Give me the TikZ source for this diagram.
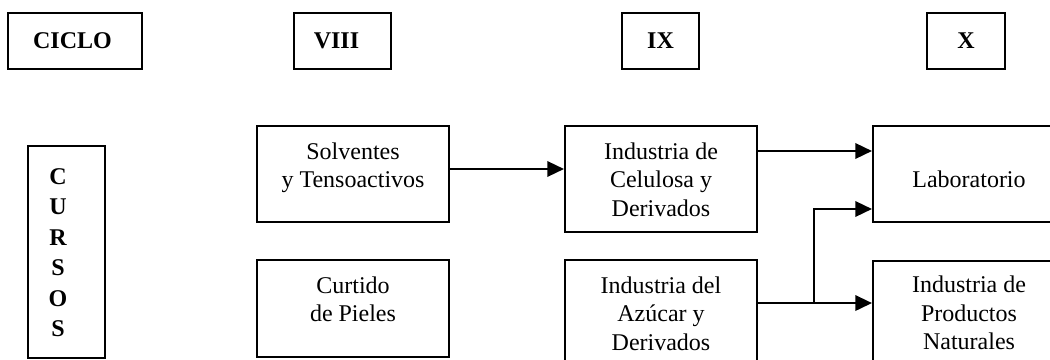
\documentclass[tikz,border=0pt]{standalone}
\usepackage{fontspec}
\setmainfont{Liberation Serif}
\usetikzlibrary{arrows.meta}
\newcommand{\bxt}[4]{\parbox[c][#2][t]{#1}{\centering\rule{0pt}{#3}#4}}
\begin{document}
\begin{tikzpicture}[x=0.75pt,y=-0.75pt,
  font=\fontsize{18pt}{21.4pt}\selectfont,
  box/.style={draw, line width=1.5pt, inner sep=0pt, anchor=north west},
  hbox/.style={draw, line width=1.5pt, inner sep=0pt, minimum height=42pt, font=\fontsize{18pt}{21.4pt}\selectfont\bfseries},
  arr/.style={line width=1.8pt, -{Triangle[length=12.5pt,width=11.5pt]}}]
\useasboundingbox (0,0) rectangle (1050,360);
\clip (0,0) rectangle (1050,360);
% headings
\node[hbox, minimum width=100.5pt] (ciclo) at (75,41) {\hspace*{-3.75pt}CICLO};
\node[hbox, minimum width=72.75pt] (viii) at (342.5,41) {\hspace*{-9pt}VIII};
\node[hbox, minimum width=57.75pt] (ix) at (660.5,41) {IX};
\node[hbox, minimum width=58.5pt] (x) at (966,41) {X};
% cursos
\node[box] (cursos) at (27,145) {\parbox[c][159pt][t]{57.75pt}{\bfseries\fontsize{18pt}{22.9pt}\selectfont\centering\rightskip=12.75pt plus 1fil\rule{0pt}{28.5pt}C\\U\\R\\S\\O\\S}};
% course boxes
\node[box] (solv) at (256,125) {\bxt{144pt}{72pt}{24.75pt}{Solventes\\y Tensoactivos}};
\node[box] (curt) at (256,259) {\bxt{144pt}{72.75pt}{24.75pt}{Curtido\\de Pieles}};
\node[box] (celu) at (564,125) {\bxt{144pt}{79.5pt}{24.75pt}{Industria de\\Celulosa y\\Derivados}};
\node[box] (azuc) at (564,259) {\bxt{144pt}{84.75pt}{24.75pt}{Industria del\\Azúcar y\\Derivados}};
\node[box] (lab) at (872,125) {\bxt{144pt}{72pt}{46.3pt}{Laboratorio}};
\node[box] (prod) at (872,260) {\bxt{144pt}{84pt}{23.8pt}{Industria de\\Productos\\Naturales}};
% connectors
\coordinate (a1) at ([yshift=3.75pt]solv.east);
\draw[arr] (a1) -- (a1 -| celu.west);
\coordinate (a2) at ([yshift=21pt]celu.east);
\draw[arr] (a2) -- (a2 -| lab.west);
\coordinate (a3) at ([yshift=10.1pt]azuc.east);
\draw[arr] (a3) -- (a3 -| prod.west);
\coordinate (j) at ([xshift=42pt]a3);
\coordinate (a4) at ([yshift=-26.25pt]lab.west);
\draw[arr] (j) |- (a4);
\end{tikzpicture}
\end{document}
